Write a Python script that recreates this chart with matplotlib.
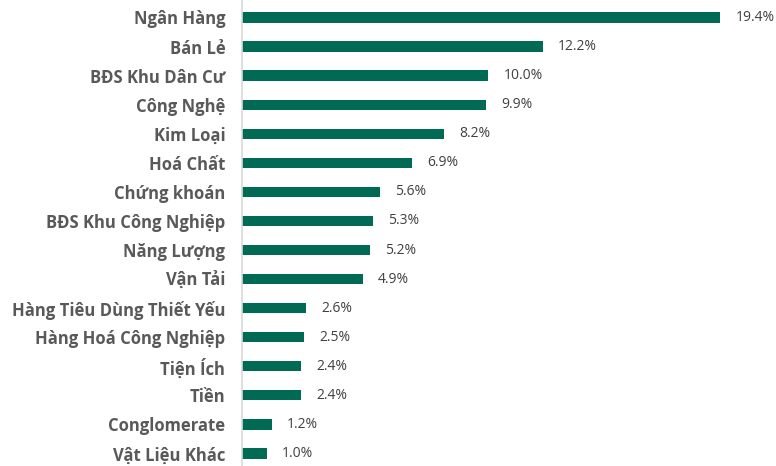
import matplotlib.pyplot as plt

sectors = ['Ngân Hàng', 'Bán Lẻ', 'BĐS Khu Dân Cư', 'Công Nghệ', 'Kim Loại',
           'Hoá Chất', 'Chứng khoán', 'BĐS Khu Công Nghiệp', 'Năng Lượng',
           'Vận Tải', 'Hàng Tiêu Dùng Thiết Yếu', 'Hàng Hoá Công Nghiệp',
           'Tiện Ích', 'Tiền', 'Conglomerate', 'Vật Liệu Khác']
weights = [19.4, 12.2, 10.0, 9.9, 8.2, 6.9, 5.6, 5.3, 5.2, 4.9,
           2.6, 2.5, 2.4, 2.4, 1.2, 1.0]

plt.rcParams['font.family'] = ['Open Sans', 'DejaVu Sans']

fig = plt.figure(figsize=(7.76, 4.66), dpi=100)
ax = fig.add_axes([242 / 776, 0, 1 - 242 / 776, 1])

pos = list(range(len(sectors)))
ax.barh(pos, weights, height=0.35, color='#006a55')

for p, w in zip(pos, weights):
    ax.annotate(f'{w:.1f}%', (w, p), xytext=(11, 0), textcoords='offset points',
                va='center', ha='left', fontsize=10, color='#404040')

ax.set_xlim(0, 21.67)
ax.set_ylim(15.43, -0.6)
ax.set_yticks(pos)
ax.set_yticklabels(sectors, fontsize=12, fontweight='bold', color='#595959')
ax.tick_params(axis='y', length=0, pad=12)
ax.set_xticks([])
for s in ['top', 'right', 'bottom']:
    ax.spines[s].set_visible(False)
ax.spines['left'].set_color('#d9d9d9')
ax.spines['left'].set_linewidth(1.2)

fig.savefig('out.png', dpi=100)
